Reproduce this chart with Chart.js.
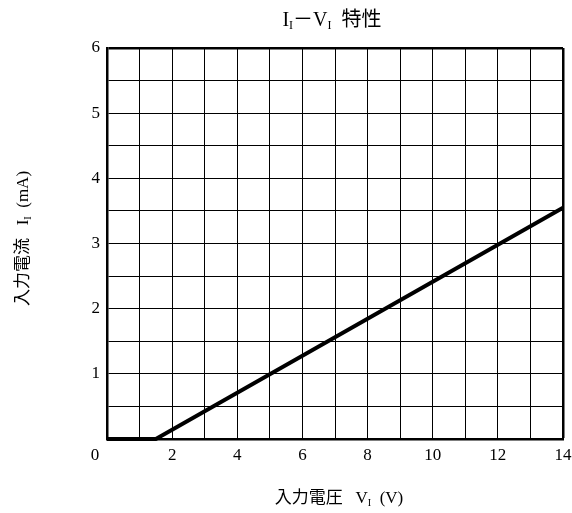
<!DOCTYPE html>
<html>
<head>
<meta charset="utf-8">
<script src="https://cdn.jsdelivr.net/npm/chart.js@4"></script>
<style>
  html, body { margin: 0; padding: 0; background: #fff; }
  #wrap { width: 572px; height: 513px; }
</style>
</head>
<body>
<div id="wrap"><canvas id="grafik"></canvas></div>
<script>
// data
const teganganV = [0, 1.5, 14];
const arusMA = [0, 0, 3.55];
const xTicks = [0, 2, 4, 6, 8, 10, 12, 14];
const yTicks = [1, 2, 3, 4, 5, 6];

const serif = '"Liberation Serif", "Noto Sans CJK JP", serif';

// teks dengan subscript, digambar per potongan
function drawParts(c, parts, size, cx, cy, rot) {
    c.save();
    c.translate(cx, cy);
    if (rot) c.rotate(rot);
    c.fillStyle = '#000';
    c.textBaseline = 'alphabetic';
    let total = 0;
    parts.forEach(p => {
        c.font = (p.sub ? size * 0.6 : size) + 'px ' + serif;
        total += c.measureText(p.t).width;
    });
    let x = -total / 2;
    parts.forEach(p => {
        c.font = (p.sub ? size * 0.6 : size) + 'px ' + serif;
        c.fillText(p.t, x, p.sub ? size * 0.5 : size * 0.35);
        x += c.measureText(p.t).width;
    });
    c.restore();
}

const labelPlugin = {
    id: 'labelPlugin',
    afterDraw(chart) {
        const c = chart.ctx;
        const a = chart.chartArea;
        const cx = (a.left + a.right) / 2;
        drawParts(c, [
            { t: 'I' }, { t: 'I', sub: true }, { t: '－V' }, { t: 'I', sub: true }, { t: '  特性' }
        ], 20, cx - 3, 19);
        drawParts(c, [
            { t: '入力電圧   V' }, { t: 'I', sub: true }, { t: '  (V)' }
        ], 17, cx + 4, 497);
        drawParts(c, [
            { t: '入力電流   I' }, { t: 'I', sub: true }, { t: '  (mA)' }
        ], 17, 22, (a.top + a.bottom) / 2 - 5, -Math.PI / 2);
        // label 0 di pojok kiri bawah
        c.save();
        c.font = '17px ' + serif;
        c.fillStyle = '#000';
        c.textAlign = 'center';
        c.textBaseline = 'top';
        c.fillText('0', chart.scales.x.getPixelForValue(0) - 12, a.bottom + 8);
        c.restore();
    }
};

new Chart(document.getElementById('grafik'), {
    type: 'line',
    data: {
        datasets: [{
            data: teganganV.map((v, i) => ({ x: v, y: arusMA[i] })),
            borderColor: '#000',
            borderWidth: 4,
            pointRadius: 0,
            tension: 0,
            fill: false,
            clip: false
        }]
    },
    options: {
        responsive: true,
        maintainAspectRatio: false,
        animation: false,
        layout: { padding: { left: 0, right: 0, top: 48, bottom: 0 } },
        plugins: {
            legend: { display: false },
            title: { display: false },
            tooltip: { enabled: false }
        },
        scales: {
            x: {
                type: 'linear',
                min: 0,
                max: 14,
                afterFit: s => { s.height = 74; s.paddingRight = 9; },
                ticks: {
                    stepSize: 1,
                    color: '#000',
                    font: { family: serif, size: 17 },
                    padding: 6,
                    maxRotation: 0,
                    autoSkip: false,
                    callback: v => (xTicks.includes(v) && v !== 0) ? String(v) : ''
                },
                grid: {
                    color: '#000',
                    lineWidth: ctx => (ctx.tick && ctx.tick.value === 14) ? 2.5 : 1,
                    drawTicks: false
                },
                border: { color: '#000', width: 2.5 }
            },
            y: {
                min: 0,
                max: 6,
                afterFit: s => { s.width = 107; },
                ticks: {
                    stepSize: 0.5,
                    color: '#000',
                    font: { family: serif, size: 17 },
                    padding: 7,
                    autoSkip: false,
                    callback: v => yTicks.includes(v) ? String(v) : ''
                },
                grid: {
                    color: '#000',
                    lineWidth: ctx => (ctx.tick && ctx.tick.value === 6) ? 2.5 : 1,
                    drawTicks: false
                },
                border: { color: '#000', width: 2.5 }
            }
        }
    },
    plugins: [labelPlugin]
});
</script>
</body>
</html>
